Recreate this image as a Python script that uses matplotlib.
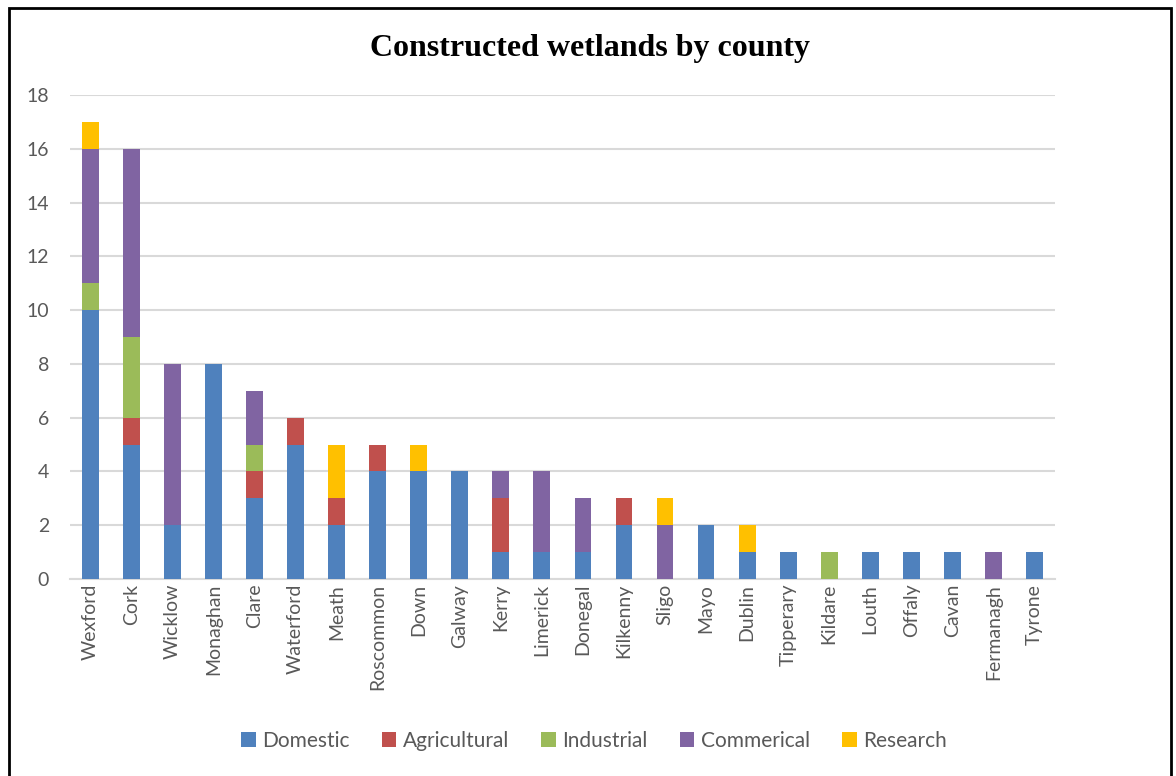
import numpy as np
import matplotlib.pyplot as plt
from matplotlib.patches import Rectangle

counties = ['Wexford', 'Cork', 'Wicklow', 'Monaghan', 'Clare', 'Waterford', 'Meath',
            'Roscommon', 'Down', 'Galway', 'Kerry', 'Limerick', 'Donegal', 'Kilkenny',
            'Sligo', 'Mayo', 'Dublin', 'Tipperary', 'Kildare', 'Louth', 'Offaly',
            'Cavan', 'Fermanagh', 'Tyrone']

domestic     = [10, 5, 2, 8, 3, 5, 2, 4, 4, 4, 1, 1, 1, 2, 0, 2, 1, 1, 0, 1, 1, 1, 0, 1]
agricultural = [0, 1, 0, 0, 1, 1, 1, 1, 0, 0, 2, 0, 0, 1, 0, 0, 0, 0, 0, 0, 0, 0, 0, 0]
industrial   = [1, 3, 0, 0, 1, 0, 0, 0, 0, 0, 0, 0, 0, 0, 0, 0, 0, 0, 1, 0, 0, 0, 0, 0]
commerical   = [5, 7, 6, 0, 2, 0, 0, 0, 0, 0, 1, 3, 2, 0, 2, 0, 0, 0, 0, 0, 0, 0, 1, 0]
research     = [1, 0, 0, 0, 0, 0, 2, 0, 1, 0, 0, 0, 0, 0, 1, 0, 1, 0, 0, 0, 0, 0, 0, 0]

series = [('Domestic', domestic, '#4F81BD'),
          ('Agricultural', agricultural, '#C0504D'),
          ('Industrial', industrial, '#9BBB59'),
          ('Commerical', commerical, '#8064A2'),
          ('Research', research, '#FFC000')]

plt.rcParams['font.family'] = ['Lato', 'DejaVu Sans']
grey = '#595959'

fig = plt.figure(figsize=(11.76, 7.76), dpi=100)
ax = fig.add_axes([0.0595, 0.2539, 0.8375, 0.6237])

x = np.arange(len(counties))
bottom = np.zeros(len(counties))
for name, vals, col in series:
    vals = np.array(vals, dtype=float)
    ax.bar(x, vals, width=0.41, bottom=bottom, color=col, label=name, zorder=3)
    bottom += vals

ax.set_xlim(-0.5, len(counties) - 0.5)
ax.set_ylim(0, 18)
ax.set_yticks(range(0, 19, 2))
ax.yaxis.grid(True, color='#D9D9D9', linewidth=1.5, zorder=0)
for s in ['top', 'right', 'left']:
    ax.spines[s].set_visible(False)
ax.spines['bottom'].set_color('#D9D9D9')
ax.spines['bottom'].set_linewidth(1.5)
ax.tick_params(axis='both', length=0, colors=grey, labelsize=14)
ax.tick_params(axis='y', pad=15)
ax.set_xticks(x)
ax.set_xticklabels(counties, rotation=90)

fig.text(0.502, 0.937, 'Constructed wetlands by county', ha='center', va='center',
         fontsize=23, fontweight='bold', family='Liberation Serif')

leg = fig.legend(loc='center', bbox_to_anchor=(0.505, 0.045), ncol=5, frameon=False,
                 fontsize=15, handlelength=0.7, handleheight=0.7, handletextpad=0.3,
                 columnspacing=1.55)
for t in leg.get_texts():
    t.set_color(grey)

# outer frame around the chart
fig.patches.append(Rectangle((9 / 1176, -0.05), 1162 / 1176, 1.05 - 8 / 776,
                             transform=fig.transFigure, fill=False,
                             edgecolor='black', linewidth=2))

fig.savefig('out.png', dpi=100)
